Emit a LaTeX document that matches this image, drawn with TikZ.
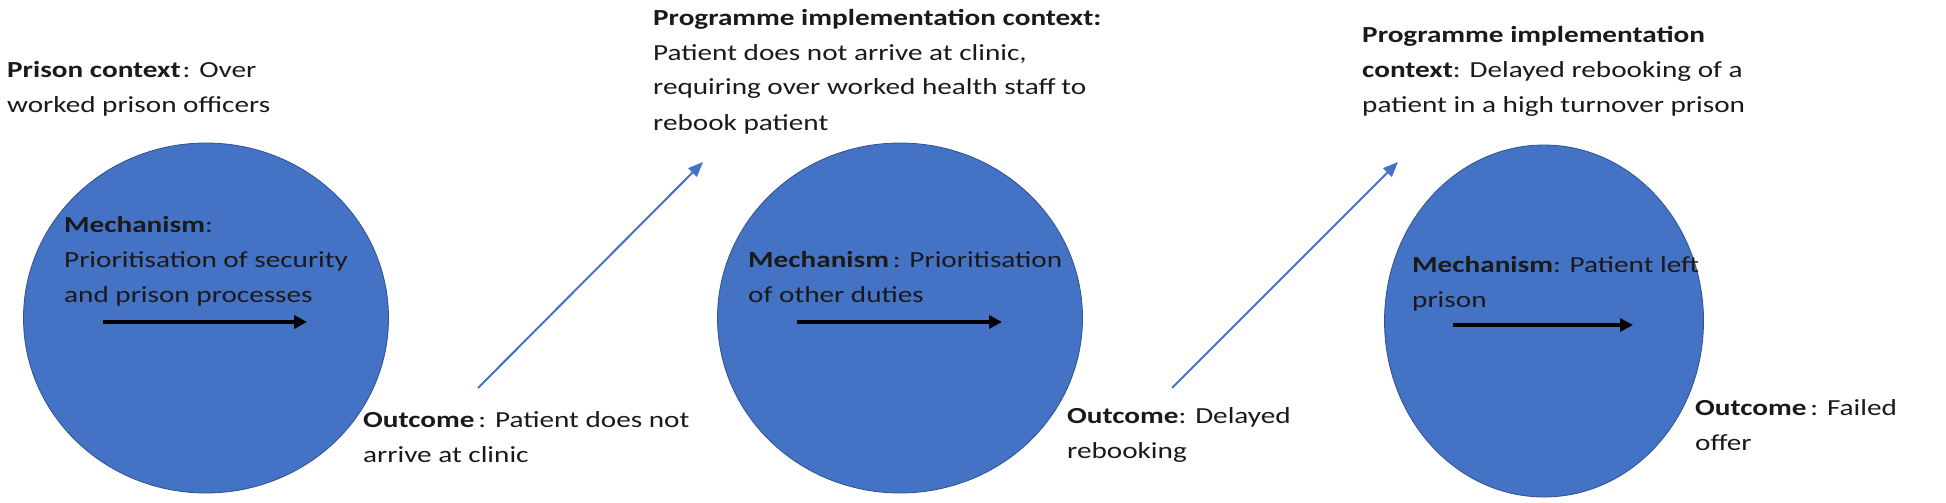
\documentclass[tikz,border=0pt]{standalone}
\usepackage{fontspec}
\setmainfont{Carlito}[FakeStretch=1.27]
\usetikzlibrary{shapes.geometric,arrows.meta}
\definecolor{cblue}{HTML}{4472C4}
\definecolor{cedge}{HTML}{2F528F}
\definecolor{ctext}{HTML}{1A1A1A}
\tikzset{
  blob/.style={ellipse, fill=cblue, draw=cedge, line width=0.8pt, inner sep=0pt},
  lbl/.style={anchor=base west, align=left, inner sep=0pt, text=ctext,
              font=\fontsize{23}{35}\selectfont},
  mecharrow/.style={line width=3.3pt, -{Triangle[length=13pt,width=13pt]}},
  linkarrow/.style={cblue, line width=2pt, -{Triangle[length=15pt,width=12pt]}}
}
\begin{document}
\begin{tikzpicture}[x=1pt,y=-1pt]
\useasboundingbox (0,0) rectangle (1946,503);
% circles
\node[blob, minimum width=365pt, minimum height=350pt] (c1) at (206,318) {};
\node[blob, minimum width=365pt, minimum height=350pt] (c2) at (900,318) {};
\node[blob, minimum width=319pt, minimum height=352pt] (c3) at (1544,321) {};
% texts (anchor = baseline of the last line)
\node[lbl] (p1) at (7,112) {\textbf{Prison context}\kern2pt: Over\\worked prison officers};
\node[lbl] (m1) at (64,302) {\textbf{Mechanism}:\\Prioritisation of security\\and prison processes};
\node[lbl] (o1) at (363,462) {\textbf{Outcome}\thinspace: Patient does not\\arrive at clinic};
\node[lbl] (p2) at (653,130) {\textbf{Programme implementation context:}\\Patient does not arrive at clinic,\\requiring over worked health staff\kern-1pt{} to\\rebook patient};
\node[lbl] (m2) at (748,302) {\textbf{Mechanism}\thinspace: Prioritisation\\of other duties};
\node[lbl] (o2) at (1067,458) {\textbf{Outcome}: Delayed\\rebooking};
\node[lbl] (p3) at (1362,112) {\textbf{Programme implementation}\\\textbf{context}: Delayed rebooking of a\\patient in a high turnover prison};
\node[lbl] (m3) at (1412,307) {\textbf{Mechanism}: Patient left\\prison};
\node[lbl] (o3) at (1695,450) {\textbf{Outcome}\thinspace: Failed\\offer};
% arrow end points
\coordinate (k1s) at (103,322); \coordinate (k1e) at (307,322);
\coordinate (k2s) at (797,322); \coordinate (k2e) at (1002,322);
\coordinate (k3s) at (1453,325); \coordinate (k3e) at (1633,325);
\coordinate (a1s) at (478,388); \coordinate (a1e) at (703,162);
\coordinate (a2s) at (1172,388); \coordinate (a2e) at (1398,162);
\draw[mecharrow] (k1s) -- (k1e);
\draw[mecharrow] (k2s) -- (k2e);
\draw[mecharrow] (k3s) -- (k3e);
\draw[linkarrow] (a1s) -- (a1e);
\draw[linkarrow] (a2s) -- (a2e);
\end{tikzpicture}
\end{document}
